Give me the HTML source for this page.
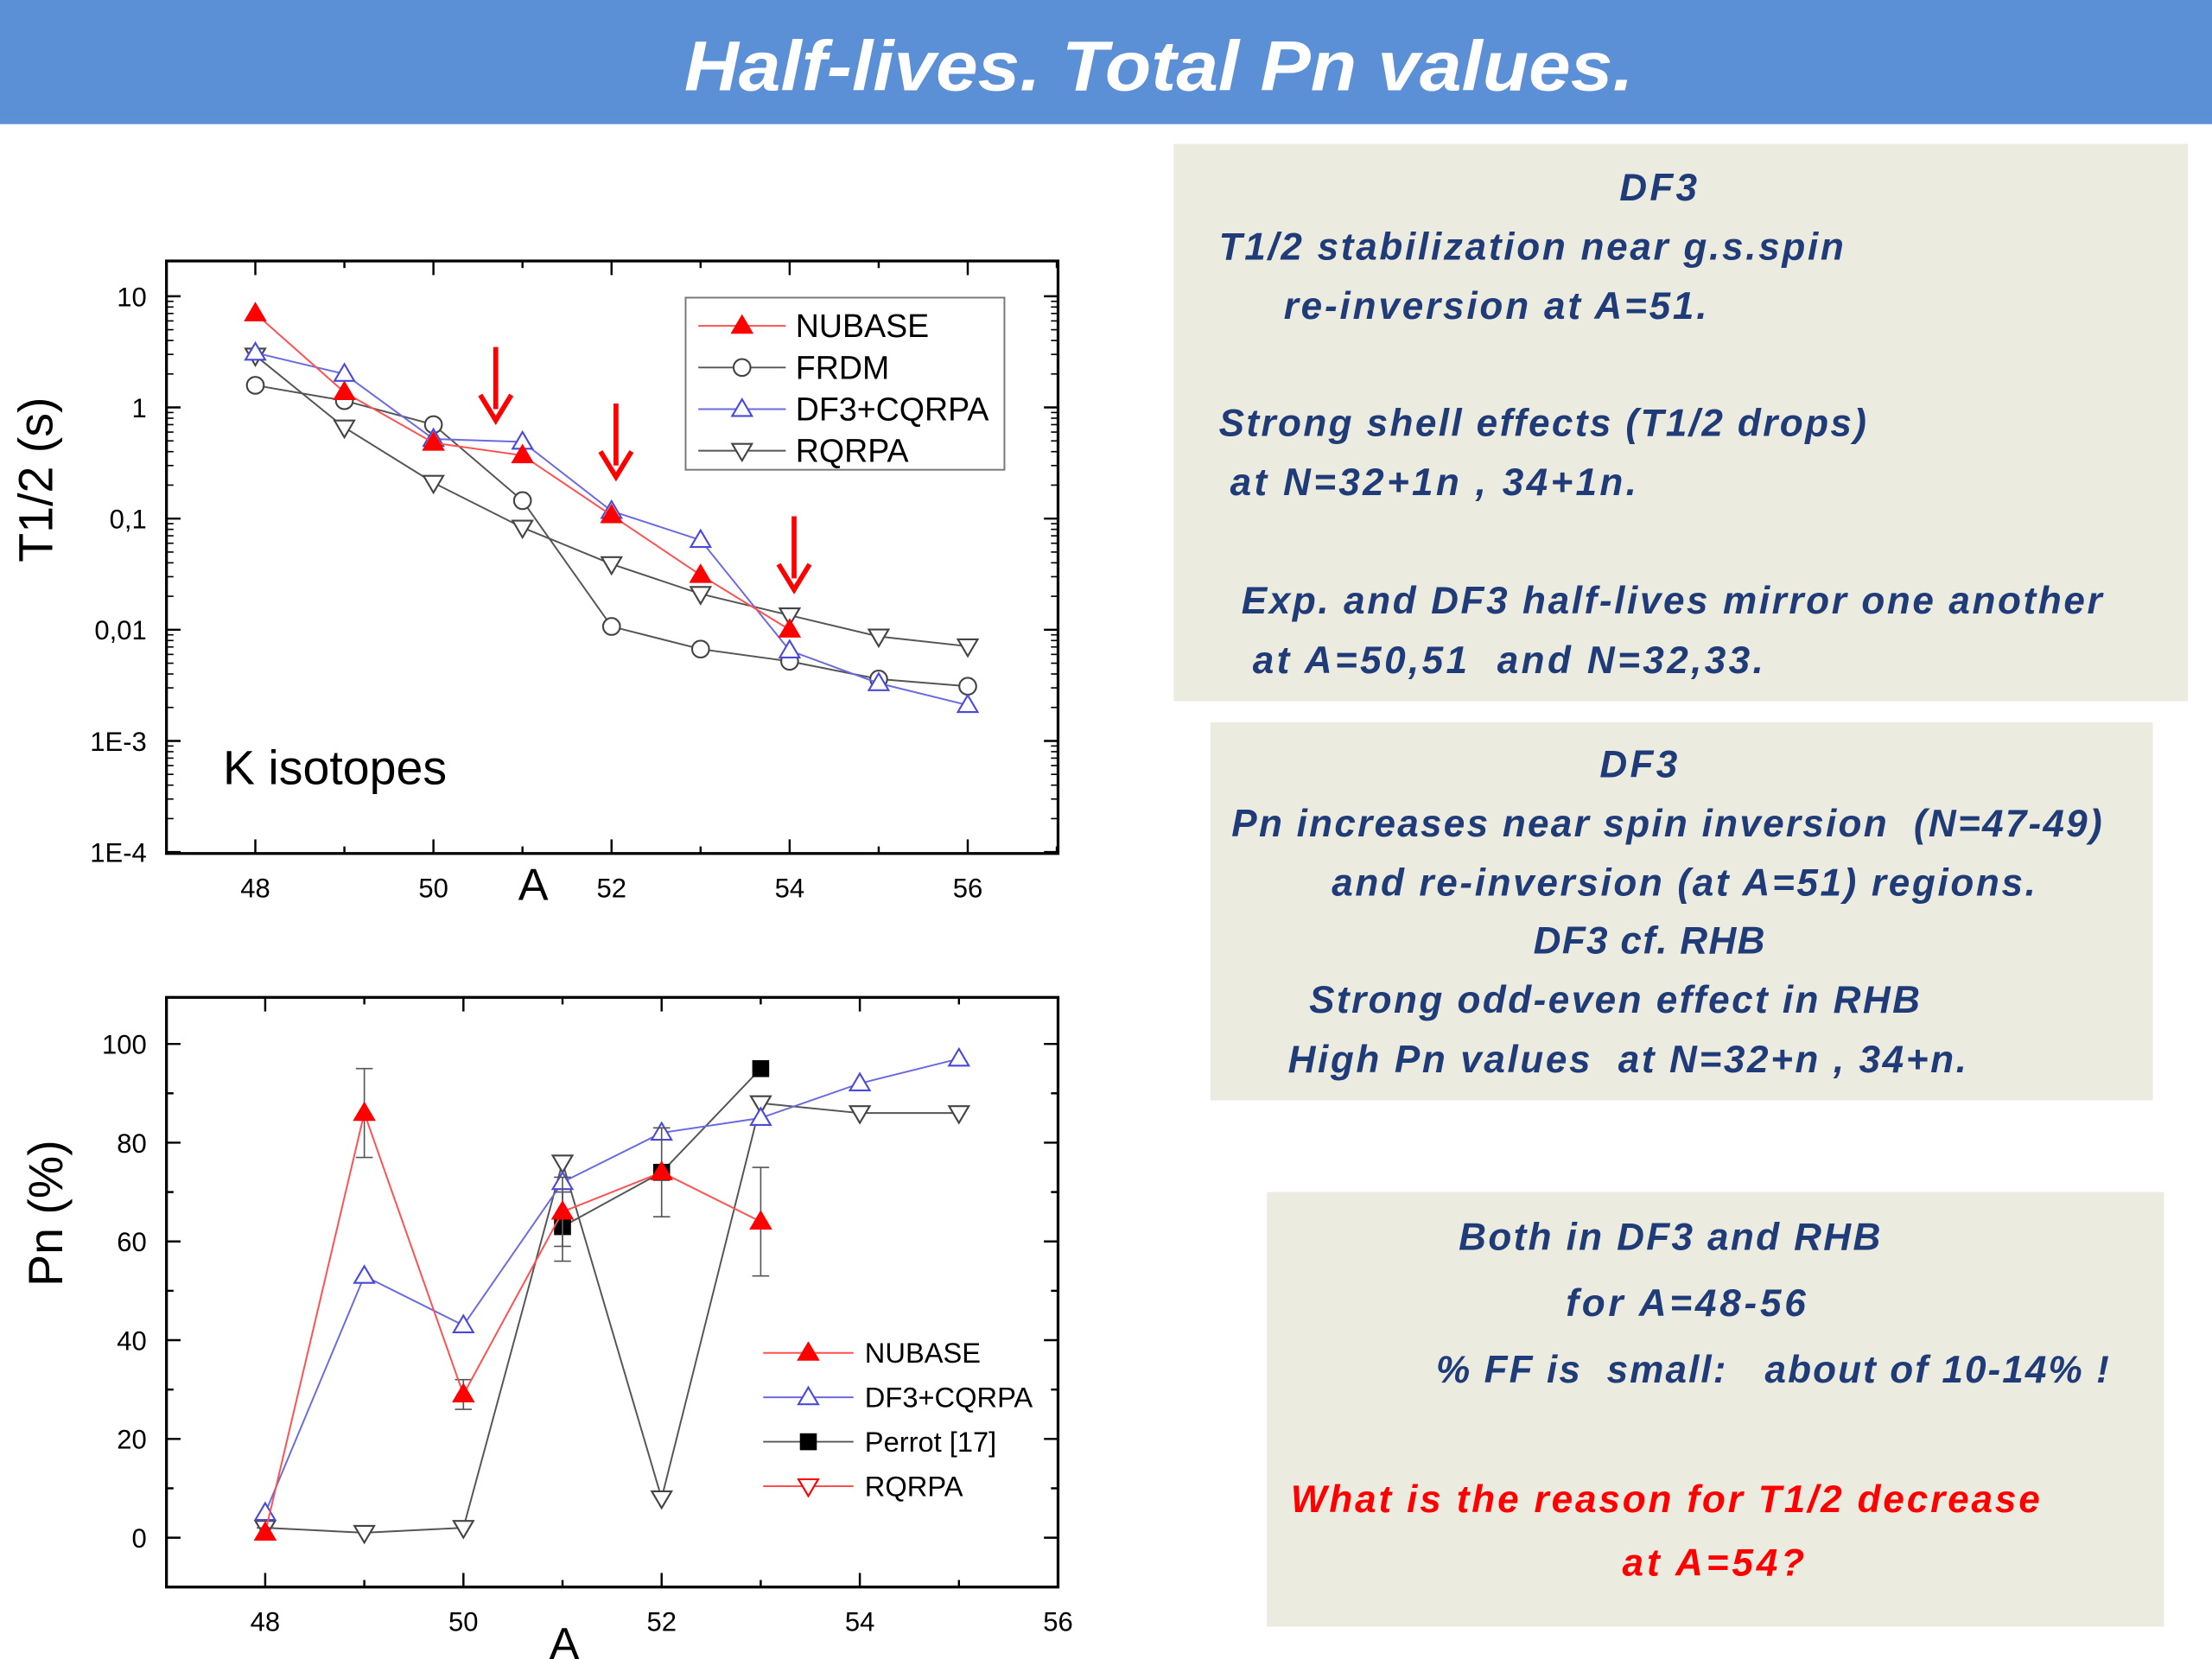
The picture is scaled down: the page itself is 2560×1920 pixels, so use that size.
<!DOCTYPE html>
<html><head><meta charset="utf-8"><style>
html,body{margin:0;padding:0;background:#fff;}
svg{display:block;font-family:"Liberation Sans",sans-serif;}
.bx{font-family:"Liberation Sans",sans-serif;font-weight:bold;font-style:italic;font-size:27px;fill:#1f3b78;white-space:pre;}
</style></head><body>
<svg id="s" width="2560" height="1920" viewBox="0 0 1568 1176" xmlns="http://www.w3.org/2000/svg">
<rect x="0" y="0" width="1568" height="88" fill="#5b8fd6"/>
<text x="485" y="64" textLength="673" lengthAdjust="spacingAndGlyphs" fill="#fff" font-size="50" font-weight="bold" font-style="italic">Half-lives.  Total Pn values.</text>

<g>
<rect x="832" y="102" width="719" height="395" fill="#ecebdf"/>
<text class="bx" x="1148" y="142" textLength="55">DF3</text>
<text class="bx" x="864" y="184" textLength="443">T1/2 stabilization near g.s.spin</text>
<text class="bx" x="910" y="226" textLength="300">re-inversion at A=51.</text>
<text class="bx" x="864" y="309" textLength="459">Strong shell effects (T1/2 drops)</text>
<text class="bx" x="872" y="351" textLength="288">at N=32+1n , 34+1n.</text>
<text class="bx" x="880" y="435" textLength="610">Exp. and DF3 half-lives mirror one another</text>
<text class="bx" x="888" y="477" textLength="362">at A=50,51  and N=32,33.</text>
</g>
<g>
<rect x="858" y="512" width="668" height="268" fill="#ecebdf"/>
<text class="bx" x="1134" y="551" textLength="55">DF3</text>
<text class="bx" x="873" y="593" textLength="617">Pn increases near spin inversion  (N=47-49)</text>
<text class="bx" x="944" y="635" textLength="499">and re-inversion (at A=51) regions.</text>
<text class="bx" x="1087" y="676" textLength="164">DF3 cf. RHB</text>
<text class="bx" x="928" y="718" textLength="433">Strong odd-even effect in RHB</text>
<text class="bx" x="913" y="760" textLength="481">High Pn values  at N=32+n , 34+n.</text>
</g>
<g>
<rect x="898" y="845" width="636" height="308" fill="#ecebdf"/>
<text class="bx" x="1034" y="886" textLength="299">Both in DF3 and RHB</text>
<text class="bx" x="1110" y="933" textLength="170">for A=48-56</text>
<text class="bx" x="1018" y="980" textLength="477">% FF is  small:   about of 10-14% !</text>
<text class="bx" x="915" y="1072" textLength="531" style="fill:#ff0000">What is the reason for T1/2 decrease</text>
<text class="bx" x="1150" y="1117" textLength="129" style="fill:#ff0000">at A=54?</text>
</g>
<g id="top"></g>
<g id="bot"></g>
</svg>
<script>
// ---- top chart data (T1/2, s) ----
const topMass = [48,49,50,51,52,53,54,55,56];
const nubaseT = [7,1.37,0.48,0.37,0.107,0.031,0.01];
const frdmT = [1.58,1.15,0.7,0.145,0.0107,0.0067,0.0052,0.0036,0.0031];
const df3T = [3.1,2.0,0.52,0.49,0.117,0.064,0.0065,0.0033,0.0021];
const rqrpaT = [2.93,0.66,0.21,0.083,0.039,0.021,0.0135,0.0087,0.0071];
const topYTicks = ["10","1","0,1","0,01","1E-3","1E-4"];
const topXTicks = [48,50,52,54,56];
const arrowsAt = [50.7,52.05,54.05];
// ---- bottom chart data (Pn, %) ----
const botMass = [48,49,50,51,52,53,54,55];
const nubaseP = [1,86,29,66,74,64];
const nubaseErr = [1,9,3,7,9,11];
const df3P = [5,53,43,72,82,85,92,97];
const perrotMass = [51,52,53];
const perrotP = [63,74,95];
const perrotErr = [7,0,0];
const rqrpaP = [2,1,2,76,8,88,86,86];
const botYTicks = [0,20,40,60,80,100];
const botXTicks = [48,50,52,54,56];

const NS="http://www.w3.org/2000/svg";
function mk(p,tag,at){const e=document.createElementNS(NS,tag);for(const k in at)e.setAttribute(k,at[k]);p.appendChild(e);return e;}
function tx(p,x,y,s,size,anchor){const e=mk(p,'text',{x:x,y:y,'font-size':size,'text-anchor':anchor||'middle',fill:'#000'});e.textContent=s;return e;}
function marker(p,kind,x,y,col,fill){
  const r=7;
  if(kind==='tri') return mk(p,'polygon',{points:`${x},${y-r} ${x-r},${y+r*0.7} ${x+r},${y+r*0.7}`,fill:fill,stroke:col,'stroke-width':1.3});
  if(kind==='itri') return mk(p,'polygon',{points:`${x},${y+r} ${x-r},${y-r*0.7} ${x+r},${y-r*0.7}`,fill:fill,stroke:col,'stroke-width':1.3});
  if(kind==='circ') return mk(p,'circle',{cx:x,cy:y,r:6,fill:fill,stroke:col,'stroke-width':1.3});
  return mk(p,'rect',{x:x-5.5,y:y-5.5,width:11,height:11,fill:fill,stroke:col});
}
function series(p,name,xs,ys,fx,fy,line,kind,mcol,fill){
  const g=mk(p,'g',{});
  
  
  const pts=ys.map((v,i)=>fx(xs[i])+','+fy(v)).join(' ');
  mk(g,'polyline',{points:pts,fill:'none',stroke:line,'stroke-width':1.2});
  ys.forEach((v,i)=>{const m=marker(g,kind,fx(xs[i]),fy(v),mcol,fill);
    
    });
  return g;
}
function frame(g,x0,y0,x1,y1){mk(g,'rect',{x:x0,y:y0,width:x1-x0,height:y1-y0,fill:'none',stroke:'#000','stroke-width':2});}

// ===== top chart =====
(function(){
const g=document.getElementById('top');


const X0=118,X1=750,Y0=185,Y1=605;
const fx=a=>181+(a-48)*63.125;
const fy=v=>210+(1-Math.log10(v))*78.8;
frame(g,X0,Y0,X1,Y1);
for(let d=0;d<6;d++){
  const y=210+d*78.8;
  mk(g,'line',{x1:X0,y1:y,x2:X0+10,y2:y,stroke:'#000','stroke-width':1.5});
  mk(g,'line',{x1:X1,y1:y,x2:X1-10,y2:y,stroke:'#000','stroke-width':1.5});
  const t=tx(g,X0-14,y+7,topYTicks[d],19,'end');
  
  
  if(d<5){for(let k=2;k<10;k++){const yy=y+78.8*(1-Math.log10(k));
    mk(g,'line',{x1:X0,y1:yy,x2:X0+5,y2:yy,stroke:'#000'});
    mk(g,'line',{x1:X1,y1:yy,x2:X1-5,y2:yy,stroke:'#000'});}}
}
for(let a=48;a<=57;a++){const x=fx(a);if(x>X1)break;
  const L=a%2===0?10:5;
  mk(g,'line',{x1:x,y1:Y1,x2:x,y2:Y1-L,stroke:'#000','stroke-width':1.5});
  mk(g,'line',{x1:x,y1:Y0,x2:x,y2:Y0+L,stroke:'#000','stroke-width':1.5});}
topXTicks.forEach(a=>{const t=tx(g,fx(a),636,a,19);
  
  });
const xt=tx(g,378,638,'A',32);


const yt=tx(g,0,0,'T1/2 (s)',34);
yt.setAttribute('transform','translate(37,340) rotate(-90)');


const lab=tx(g,158,556,'K isotopes',34,'start');


series(g,'frdm-series',topMass,frdmT,fx,fy,'#555','circ','#444','#fff');
series(g,'rqrpa-series',topMass,rqrpaT,fx,fy,'#555','itri','#444','#fff');
series(g,'df3-series',topMass,df3T,fx,fy,'#6a6ae0','tri','#4a4ad8','#fff');
series(g,'nubase-series',topMass,nubaseT,fx,fy,'#ff5050','tri','#ff0000','#ff0000');
arrowsAt.forEach(a=>{const x=fx(a);const ag=mk(g,'g',{});
  
  
  const yb=[298,338,418][arrowsAt.indexOf(a)];
  mk(ag,'line',{x1:x,y1:yb-52,x2:x,y2:yb-8,stroke:'#f00','stroke-width':3.5});
  mk(ag,'polyline',{points:`${x-11},${yb-18} ${x},${yb} ${x+11},${yb-18}`,fill:'none',stroke:'#f00','stroke-width':3.5});});
const lg=mk(g,'g',{});


mk(lg,'rect',{x:486,y:211,width:226,height:122,fill:'#fff',stroke:'#777','stroke-width':1.2});
[['NUBASE','tri','#ff0000','#ff0000','#ff5050'],['FRDM','circ','#444','#fff','#555'],['DF3+CQRPA','tri','#4a4ad8','#fff','#6a6ae0'],['RQRPA','itri','#444','#fff','#555']].forEach((e,i)=>{
  const y=231+i*29.5;const eg=mk(lg,'g',{});
  
  
  mk(eg,'line',{x1:495,y1:y,x2:557,y2:y,stroke:e[4],'stroke-width':1.2});
  marker(eg,e[1],526,y,e[2],e[3]);
  tx(eg,564,y+8,e[0],23,'start');});
})();

// ===== bottom chart =====
(function(){
const g=document.getElementById('bot');


const X0=118,X1=750,Y0=707,Y1=1125;
const fx=a=>188+(a-48)*70.25;
const fy=v=>1090-v*3.5;
frame(g,X0,Y0,X1,Y1);
for(let v=0;v<=100;v+=10){const y=fy(v);const L=v%20===0?10:5;
  mk(g,'line',{x1:X0,y1:y,x2:X0+L,y2:y,stroke:'#000','stroke-width':1.5});
  mk(g,'line',{x1:X1,y1:y,x2:X1-L,y2:y,stroke:'#000','stroke-width':1.5});}
botYTicks.forEach(v=>{const t=tx(g,104,fy(v)+7,v,19,'end');
  
  });
for(let a=48;a<=56;a++){const x=fx(a);const L=a%2===0?10:5;
  mk(g,'line',{x1:x,y1:Y1,x2:x,y2:Y1-L,stroke:'#000','stroke-width':1.5});
  mk(g,'line',{x1:x,y1:Y0,x2:x,y2:Y0+L,stroke:'#000','stroke-width':1.5});}
botXTicks.forEach(a=>{const t=tx(g,fx(a),1156,a,19);
  
  });
const xt=tx(g,400,1176,'A',32);


const yt=tx(g,0,0,'Pn (%)',34);
yt.setAttribute('transform','translate(44,860) rotate(-90)');


series(g,'rqrpa-series',botMass,rqrpaP,fx,fy,'#555','itri','#444','#fff');
series(g,'perrot-series',perrotMass,perrotP,fx,fy,'#555','sq','#000','#000');
series(g,'df3-series',botMass,df3P,fx,fy,'#6a6ae0','tri','#4a4ad8','#fff');
const eb=mk(g,'g',{});


nubaseP.forEach((v,i)=>{const e=nubaseErr[i];if(!e)return;const x=fx(botMass[i]);
  mk(eb,'line',{x1:x,y1:fy(v-e),x2:x,y2:fy(v+e),stroke:'#555'});
  mk(eb,'line',{x1:x-6,y1:fy(v-e),x2:x+6,y2:fy(v-e),stroke:'#555'});
  mk(eb,'line',{x1:x-6,y1:fy(v+e),x2:x+6,y2:fy(v+e),stroke:'#555'});});
perrotP.forEach((v,i)=>{const e=perrotErr[i];if(!e)return;const x=fx(perrotMass[i]);
  mk(eb,'line',{x1:x,y1:fy(v-e),x2:x,y2:fy(v+e),stroke:'#555'});
  mk(eb,'line',{x1:x-6,y1:fy(v-e),x2:x+6,y2:fy(v-e),stroke:'#555'});
  mk(eb,'line',{x1:x-6,y1:fy(v+e),x2:x+6,y2:fy(v+e),stroke:'#555'});});
series(g,'nubase-series',botMass,nubaseP,fx,fy,'#ff5050','tri','#ff0000','#ff0000');
const lg=mk(g,'g',{});


[['NUBASE','tri','#ff0000','#ff0000','#ff5050'],['DF3+CQRPA','tri','#4a4ad8','#fff','#6a6ae0'],['Perrot [17]','sq','#000','#000','#555'],['RQRPA','itri','#ff0000','#fff','#ff5050']].forEach((e,i)=>{
  const y=959+i*31.5;const eg=mk(lg,'g',{});
  
  
  mk(eg,'line',{x1:541,y1:y,x2:605,y2:y,stroke:e[4],'stroke-width':1.2});
  marker(eg,e[1],573,y,e[2],e[3]);
  tx(eg,613,y+7,e[0],20,'start');});
})();
</script>
</body></html>
